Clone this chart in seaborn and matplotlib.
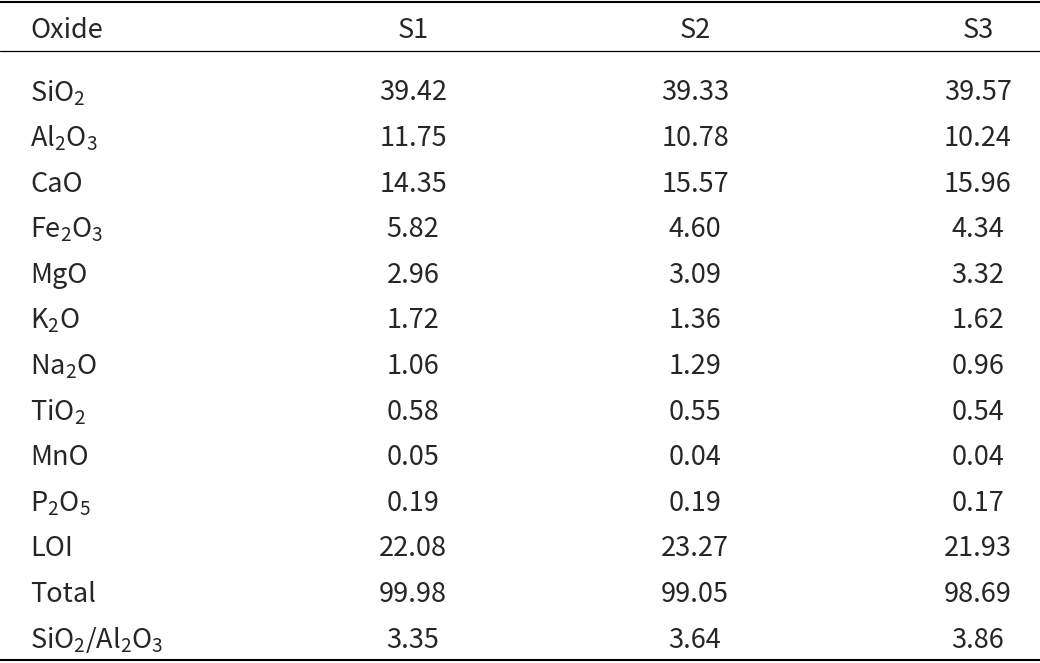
import matplotlib
matplotlib.use("Agg")
import matplotlib.pyplot as plt
import seaborn as sns

sns.set_theme(style="white")
plt.rcParams['font.family'] = ['Noto Sans CJK SC', 'DejaVu Sans']
plt.rcParams['mathtext.fontset'] = 'custom'
plt.rcParams['mathtext.rm'] = 'Noto Sans CJK SC'
plt.rcParams['mathtext.it'] = 'Noto Sans CJK SC'

header = ["Oxide", "S1", "S2", "S3"]
oxides = [r"SiO$\mathregular{_2}$", r"Al$\mathregular{_2}$O$\mathregular{_3}$", "CaO",
          r"Fe$\mathregular{_2}$O$\mathregular{_3}$", "MgO", r"K$\mathregular{_2}$O",
          r"Na$\mathregular{_2}$O", r"TiO$\mathregular{_2}$", "MnO",
          r"P$\mathregular{_2}$O$\mathregular{_5}$", "LOI", "Total",
          r"SiO$\mathregular{_2}$/Al$\mathregular{_2}$O$\mathregular{_3}$"]
s1 = ["39.42", "11.75", "14.35", "5.82", "2.96", "1.72", "1.06", "0.58", "0.05", "0.19", "22.08", "99.98", "3.35"]
s2 = ["39.33", "10.78", "15.57", "4.60", "3.09", "1.36", "1.29", "0.55", "0.04", "0.19", "23.27", "99.05", "3.64"]
s3 = ["39.57", "10.24", "15.96", "4.34", "3.32", "1.62", "0.96", "0.54", "0.04", "0.17", "21.93", "98.69", "3.86"]

fig = plt.figure(figsize=(10.4, 6.63), dpi=100)
ax = fig.add_axes([0, 0, 1, 1])
ax.set_xlim(0, 1040)
ax.set_ylim(663, 0)
ax.axis("off")

fs = 19.5
col_x = [413, 695, 978]
ax.text(30, 30, header[0], fontsize=fs, ha="left", va="center")
for x, h in zip(col_x, header[1:]):
    ax.text(x, 30, h, fontsize=fs, ha="center", va="center")

y0, dy = 93, 45.6
for i, (o, a, b, c) in enumerate(zip(oxides, s1, s2, s3)):
    y = y0 + i * dy
    ax.text(30, y, o, fontsize=fs, ha="left", va="center")
    for x, v in zip(col_x, (a, b, c)):
        ax.text(x, y, v, fontsize=fs, ha="center", va="center")

ax.axhline(2, color="black", lw=1.5)
ax.axhline(51, color="black", lw=0.9)
ax.axhline(660, color="black", lw=1.5)

fig.savefig("out.png", dpi=100)
